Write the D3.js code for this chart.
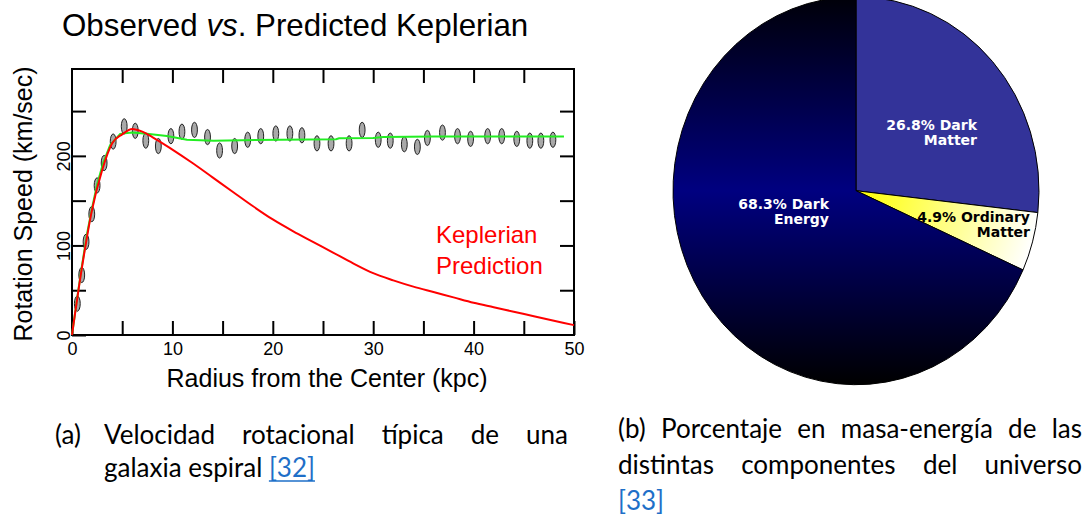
<!DOCTYPE html>
<html>
<head>
<meta charset="utf-8">
<script src="https://cdn.jsdelivr.net/npm/d3@7"></script>
<style>
  html, body { margin: 0; padding: 0; background: #fff; }
  svg { display: block; }
</style>
</head>
<body>
<svg id="fig" width="1089" height="515"></svg>
<script>
// ---------- Panel (a): galaxy rotation curve ----------
// Observed rotation speeds (kpc, km/s)
const obsRadius = [0.53, 0.97, 1.4, 1.97, 2.5, 3.2, 4.1, 5.2, 6.3, 7.35, 8.6, 9.85, 10.95, 12.2,
  13.5, 14.7, 16.2, 17.5, 18.8, 20.3, 21.7, 22.9, 24.4, 25.8, 27.6, 28.9, 30.5, 31.7, 33.1,
  34.4, 35.4, 36.9, 38.4, 39.7, 41.4, 42.8, 44.3, 45.6, 46.7, 47.9];
const obsSpeed = [35, 67, 104, 135, 167, 192, 216, 233, 228, 217, 211, 222, 227, 229,
  221, 206, 211, 218, 222, 225, 225, 223, 214, 214, 214, 229, 218, 217, 213,
  210, 220, 226, 222, 219, 222, 222, 219, 217, 217, 218];

// Fitted observed curve (green)
const fitRadius = [0, 0.5, 1, 1.5, 2, 2.5, 3.1, 3.8, 4.8, 5.96, 7.45, 9.45, 11.45, 14.1, 20.8,
  26.3, 26.6, 30, 31, 36, 49];
const fitSpeed = [0, 40, 78, 113, 142, 168, 192, 212, 224.6, 226, 224.6, 222.3, 218, 217, 218,
  218.5, 219.7, 220, 221, 221.5, 221.5];

// Keplerian prediction (red)
const keplerRadius = [0, 1, 2, 3, 4, 5, 6, 7, 8, 10, 12, 14, 16, 18, 20, 22, 24, 26, 28, 30,
  32, 34, 36, 38, 40, 42, 44, 46, 48, 50];
const keplerSpeed = [0, 76, 140, 184, 214, 224, 230, 227, 221, 207, 192, 176, 160, 144, 129, 116,
  104, 92, 80, 69, 61, 54, 48, 42, 36, 31, 26, 21, 16, 11];

const xTicks = [0, 5, 10, 15, 20, 25, 30, 35, 40, 45, 50];
const xTickLabels = ["0", "", "10", "", "20", "", "30", "", "40", "", "50"];
const yTicks = [0, 50, 100, 150, 200, 250];
const yTickLabels = ["0", "", "100", "", "200", ""];

const titleParts = ["Observed ", "vs", ". Predicted Keplerian"];
const xAxisTitle = "Radius from the Center (kpc)";
const yAxisTitle = "Rotation Speed (km/sec)";
const keplerNote = ["Keplerian", "Prediction"];

// ---------- Panel (b): mass-energy budget ----------
const components = ["Dark Matter", "Ordinary Matter", "Dark Energy"];
const shares = [26.8, 4.9, 68.3];
const shareLabels = [["26.8% Dark", "Matter"], ["4.9% Ordinary", "Matter"], ["68.3% Dark", "Energy"]];

// ---------- Captions ----------
const captionA = { tag: "(a)", line1: ["Velocidad", "rotacional", "típica", "de", "una"],
  line2: "galaxia espiral", ref: "[32]" };
const captionB = { line1: ["(b)", "Porcentaje", "en", "masa-energía", "de", "las"],
  line2: ["distintas", "componentes", "del", "universo"], ref: "[33]" };

const svg = d3.select("#fig");
const SANS = "'Liberation Sans', Arial, sans-serif";

// ================= Panel (a) =================
const x = d3.scaleLinear().domain([0, 50]).range([72, 574]);
const y = d3.scaleLinear().domain([0, 297]).range([335, 69]);

const pa = svg.append("g").attr("font-family", SANS);

// Title with italic "vs"
const title = pa.append("text").attr("x", 62).attr("y", 36)
  .attr("font-size", 31.3).attr("fill", "#000");
titleParts.forEach((t, i) => {
  title.append("tspan").attr("font-style", i === 1 ? "italic" : "normal").text(t);
});

// Axes with inward ticks on all four sides
function styleAxis(g) {
  g.select(".domain").remove();
  g.selectAll(".tick line").attr("stroke", "#000").attr("stroke-width", 2);
}
const TICK = 14;
pa.append("g").attr("transform", "translate(0,335)")
  .call(d3.axisBottom(x).tickValues(xTicks).tickSize(-TICK).tickPadding(7)
    .tickFormat((d, i) => xTickLabels[i]))
  .call(styleAxis)
  .call(g => g.selectAll("text").attr("font-size", 18).attr("font-family", SANS).attr("fill", "#000"));

pa.append("g").attr("transform", "translate(0,69)")
  .call(d3.axisTop(x).tickValues(xTicks.slice(1, -1)).tickSize(-TICK).tickFormat(""))
  .call(styleAxis);

pa.append("g").attr("transform", "translate(72,0)")
  .call(d3.axisLeft(y).tickValues(yTicks).tickSize(-TICK).tickFormat((d, i) => yTickLabels[i]))
  .call(styleAxis)
  .call(g => g.selectAll("text")
    .attr("x", null).attr("dy", null)
    .attr("text-anchor", "middle")
    .attr("font-size", 18).attr("font-family", SANS).attr("fill", "#000")
    .attr("transform", "translate(-2,0) rotate(-90)"));

pa.append("g").attr("transform", "translate(574,0)")
  .call(d3.axisRight(y).tickValues(yTicks.slice(1)).tickSize(-TICK).tickFormat(""))
  .call(styleAxis);

// Plot frame
pa.append("rect")
  .attr("x", x(0)).attr("y", y(297))
  .attr("width", x(50) - x(0)).attr("height", y(0) - y(297))
  .attr("fill", "none").attr("stroke", "#000").attr("stroke-width", 2);

// Axis titles
pa.append("text").attr("x", (x(0) + x(50)) / 2 + 4).attr("y", 387)
  .attr("text-anchor", "middle").attr("font-size", 25).text(xAxisTitle);
pa.append("text").attr("transform", "translate(32,204) rotate(-90)")
  .attr("text-anchor", "middle").attr("font-size", 25).text(yAxisTitle);

// Observed points
const obs = obsRadius.map((r, i) => ({ r, v: obsSpeed[i] }));
pa.append("g").selectAll("ellipse").data(obs).join("ellipse")
  .attr("cx", d => x(d.r)).attr("cy", d => y(d.v))
  .attr("rx", 2.9).attr("ry", 7.6)
  .attr("fill", "#a9a9a9").attr("stroke", "#222").attr("stroke-width", 1);

// Curves
const fitLine = d3.line().x(d => x(d[0])).y(d => y(d[1]));
const keplerLine = d3.line().x(d => x(d[0])).y(d => y(d[1])).curve(d3.curveMonotoneX);
pa.append("path").datum(fitRadius.map((r, i) => [r, fitSpeed[i]]))
  .attr("d", fitLine).attr("fill", "none").attr("stroke", "#22ee22").attr("stroke-width", 2);
pa.append("path").datum(keplerRadius.map((r, i) => [r, keplerSpeed[i]]))
  .attr("d", keplerLine).attr("fill", "none").attr("stroke", "#ff0000").attr("stroke-width", 2);

// Curve annotation
keplerNote.forEach((t, i) => {
  pa.append("text").attr("x", 436).attr("y", 243 + i * 31)
    .attr("font-size", 24).attr("fill", "#ff0000").text(t);
});

// ================= Panel (b) =================
const cx = 856, cy = 190.7, R = 183, RY = 194;
const defs = svg.append("defs");

const gDE = defs.append("linearGradient").attr("id", "darkEnergyFill")
  .attr("gradientUnits", "userSpaceOnUse")
  .attr("x1", 0).attr("y1", -R).attr("x2", 0).attr("y2", R);
gDE.append("stop").attr("offset", 0).attr("stop-color", "#000008");
gDE.append("stop").attr("offset", 0.5).attr("stop-color", "#000080");
gDE.append("stop").attr("offset", 1).attr("stop-color", "#000000");

const gOM = defs.append("radialGradient").attr("id", "ordinaryFill")
  .attr("gradientUnits", "userSpaceOnUse")
  .attr("cx", 0).attr("cy", 0).attr("r", R);
gOM.append("stop").attr("offset", 0).attr("stop-color", "#ffff00");
gOM.append("stop").attr("offset", 1).attr("stop-color", "#ffffff");

const sliceFill = ["#333399", "url(#ordinaryFill)", "url(#darkEnergyFill)"];

const pie = d3.pie().sort(null).value(d => d);
const arc = d3.arc().innerRadius(0).outerRadius(R);

const pb = svg.append("g")
  .attr("transform", `translate(${cx},${cy}) scale(1,${RY / R})`);
pb.selectAll("path").data(pie(shares)).join("path")
  .attr("d", arc)
  .attr("fill", (d, i) => sliceFill[i])
  .attr("stroke", "#000").attr("stroke-width", 1)
  .attr("vector-effect", "non-scaling-stroke");

// Slice labels (right-aligned two-line blocks)
const labelAnchor = [[977, 129.5], [1030, 222], [829, 208.5]];
const labelColor = ["#ffffff", "#000000", "#ffffff"];
const pl = svg.append("g").attr("font-family", "'DejaVu Sans', Verdana, sans-serif")
  .attr("font-weight", "bold").attr("font-size", 14).attr("text-anchor", "end");
shareLabels.forEach((lines, i) => {
  lines.forEach((t, j) => {
    pl.append("text").attr("x", labelAnchor[i][0]).attr("y", labelAnchor[i][1] + j * 15)
      .attr("fill", labelColor[i]).text(t);
  });
});

// ================= Captions =================
const CAP_FONT = "Lato, 'Open Sans', sans-serif";
const LINK = "#1e6fc8";
const cap = svg.append("g").attr("font-family", CAP_FONT).attr("font-size", 26).attr("fill", "#000");

function justify(g, words, x0, x1, yBase) {
  const nodes = words.map(w => g.append("text").attr("y", yBase).text(w));
  const widths = nodes.map(n => n.node().getComputedTextLength());
  const gap = (x1 - x0 - d3.sum(widths)) / (words.length - 1);
  let xx = x0;
  nodes.forEach((n, i) => { n.attr("x", xx); xx += widths[i] + gap; });
}

// (a)
cap.append("text").attr("x", 55).attr("y", 444).text(captionA.tag);
justify(cap, captionA.line1, 104, 568, 444);
const a2 = cap.append("text").attr("x", 104).attr("y", 477).text(captionA.line2);
const a2w = a2.node().getComputedTextLength();
const spaceW = 6.5;
const ref32 = cap.append("text").attr("x", 104 + a2w + spaceW).attr("y", 477)
  .attr("fill", LINK).text(captionA.ref);
const r32w = ref32.node().getComputedTextLength();
cap.append("line").attr("x1", 104 + a2w + spaceW).attr("x2", 104 + a2w + spaceW + r32w)
  .attr("y1", 481).attr("y2", 481).attr("stroke", LINK).attr("stroke-width", 1.5);

// (b)
justify(cap, captionB.line1, 618, 1082, 438);
justify(cap, captionB.line2, 618, 1082, 474);
cap.append("text").attr("x", 618).attr("y", 510).attr("fill", LINK).text(captionB.ref);
</script>
</body>
</html>
